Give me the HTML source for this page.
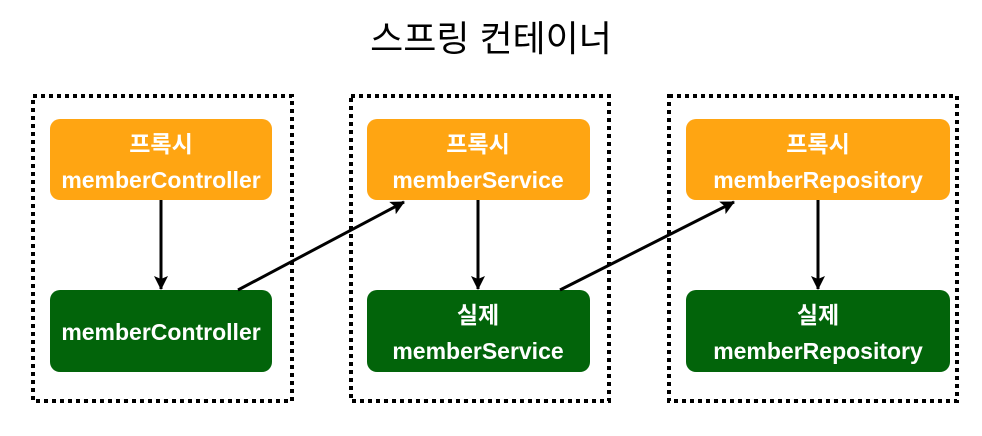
<!DOCTYPE html>
<html><head><meta charset="utf-8"><style>
html,body{margin:0;padding:0;background:#fff;width:982px;height:436px;overflow:hidden}
text{font-family:"Liberation Sans","Noto Sans CJK KR",sans-serif}
</style></head><body>
<svg width="982" height="436" viewBox="0 0 982 436" xmlns="http://www.w3.org/2000/svg">
<defs><marker id="a" markerWidth="16" markerHeight="16" refX="13" refY="7" orient="auto" markerUnits="userSpaceOnUse"><path d="M0,0 L14,7 L0,14 L3,7 Z" fill="#000"/></marker></defs>
<text x="491" y="51" text-anchor="middle" font-size="36" fill="#000">스프링 컨테이너</text>
<g fill="none" stroke="#000" stroke-width="4" stroke-dasharray="4 4">
<rect x="33" y="96" width="259" height="305"/>
<rect x="351" y="96" width="258" height="305"/>
<rect x="669" y="96" width="288" height="305"/>
</g>
<g fill="#FFA512">
<rect x="50" y="119" width="222" height="81" rx="10"/>
<rect x="367" y="119" width="223" height="81" rx="10"/>
<rect x="686" y="119" width="264" height="81" rx="10"/>
</g>
<g fill="#02640A">
<rect x="50" y="290" width="222" height="82" rx="10"/>
<rect x="367" y="290" width="223" height="82" rx="10"/>
<rect x="686" y="290" width="264" height="82" rx="10"/>
</g>
<g stroke="#000" stroke-width="3" marker-end="url(#a)">
<line x1="161" y1="200" x2="161" y2="289"/>
<line x1="478" y1="200" x2="478" y2="289"/>
<line x1="818" y1="200" x2="818" y2="289"/>
<line x1="238" y1="290" x2="404" y2="202"/>
<line x1="560" y1="290" x2="734" y2="202"/>
</g>
<g fill="#fff" font-size="23" font-weight="bold" text-anchor="middle">
<text x="161" y="152">프록시</text><text x="161" y="188">memberController</text>
<text x="478" y="152">프록시</text><text x="478" y="188">memberService</text>
<text x="818" y="152">프록시</text><text x="818" y="188">memberRepository</text>
<text x="161" y="340">memberController</text>
<text x="478" y="323">실제</text><text x="478" y="359">memberService</text>
<text x="818" y="323">실제</text><text x="818" y="359">memberRepository</text>
</g>
</svg>
</body></html>
